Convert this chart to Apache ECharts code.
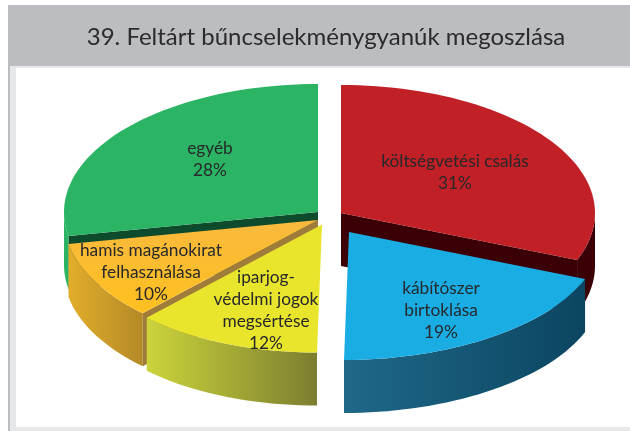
<!DOCTYPE html>
<html>
<head>
<meta charset="utf-8">
<style>
  html, body { margin: 0; padding: 0; background: #fff; }
  #chart { width: 630px; height: 431px; }
</style>
<script src="https://cdn.jsdelivr.net/npm/echarts@6/dist/echarts.min.js"></script>
</head>
<body>
<div id="chart"></div>
<script>
var titleText = "39. Feltárt bűncselekménygyanúk megoszlása";
var categories = [
  "költségvetési csalás",
  "kábítószer\nbirtoklása",
  "iparjog-\nvédelmi jogok\nmegsértése",
  "hamis magánokirat\nfelhasználása",
  "egyéb",
];
var values = [31, 19, 12, 10, 28];

// look of each slice, same order as categories
var topColors = [
  ["#c12026", "#c12026"],
  ["#19ade4", "#19ade4"],
  ["#e8e52c", "#e8e52c"],
  ["#f9b93e", "#fec01f"],
  ["#2bb463", "#2bb463"],
];
var sideColors = [
  ["#3a0006", "#3a0006"],
  ["#1f6888", "#0b4561"],
  ["#cbd43a", "#7c7e30"],
  ["#e2ad2a", "#b48a28"],
  ["#2bb463", "#2bb463"],
];
var wallColors = ["#3a0006", null, null, "#a07c3a", "#0e4a2c"];
var wallEdges = ["end", null, null, "start", "start"];
var apexes = [[341, 213], [349, 232], [322, 224.5], [318, 220], [318, 212]];
var labelPos = [[455, 172], [441, 310], [266, 310], [151, 272], [210, 159]];
var drawOrder = [1, 5, 4, 3, 2];

var RX = 254;
var RY = 128;
var DEPTH = 53;
var TILT = 5;

// the point on a slice's rim, deg clockwise from the top
function rim(apex, deg) {
  var a = (deg * Math.PI) / 180;
  var c = Math.cos(a);
  var lean = c < 0 ? TILT * c * c * c * c : 0;
  return [apex[0] + RX * Math.sin(a) - lean, apex[1] - RY * c];
}

function arc(apex, from, to) {
  var pts = [];
  var n = Math.max(2, Math.ceil(Math.abs(to - from) / 2));
  for (var i = 0; i <= n; i++) {
    pts.push(rim(apex, from + ((to - from) * i) / n));
  }
  return pts;
}

function down(p) {
  return [p[0], p[1] + DEPTH];
}

function gradient(colors, vertical) {
  return new echarts.graphic.LinearGradient(0, 0, vertical ? 0 : 1, vertical ? 1 : 0, [
    { offset: 0, color: colors[0] },
    { offset: 1, color: colors[1] },
  ]);
}

function renderSlice(params, api) {
  var i = params.dataIndex;
  var before = 0;
  for (var k = 0; k < i; k++) before += values[k];
  var total = values.reduce(function (s, v) { return s + v; }, 0);
  var start = (before / total) * 360;
  var end = ((before + api.value(0)) / total) * 360;
  var apex = apexes[i];
  var z = drawOrder[i] * 10;
  var children = [];

  // cut face, only the ones turned to the viewer
  if (wallEdges[i]) {
    var p = rim(apex, wallEdges[i] === "end" ? end : start);
    children.push({
      type: "polygon",
      z2: z,
      shape: { points: [apex, p, down(p), down(apex)] },
      style: { fill: wallColors[i] },
    });
  }

  // outer rim, front half only
  var from = Math.max(start, 90);
  var to = Math.min(end, 270);
  if (to > from) {
    var upper = arc(apex, from, to);
    var lower = upper.map(down).reverse();
    children.push({
      type: "polygon",
      z2: z + 1,
      shape: { points: upper.concat(lower) },
      style: { fill: gradient(sideColors[i], false) },
    });
  }

  children.push({
    type: "polygon",
    z2: z + 2,
    shape: { points: [apex].concat(arc(apex, start, end)) },
    style: { fill: gradient(topColors[i], true) },
  });

  children.push({
    type: "text",
    z2: 100,
    x: labelPos[i][0],
    y: labelPos[i][1],
    style: {
      text: categories[i] + "\n" + api.value(0) + "%",
      fill: "#26282b",
      font: '17.3px Lato, "Noto Sans", sans-serif',
      lineHeight: 22,
      align: "center",
      verticalAlign: "middle",
    },
  });

  return { type: "group", children: children };
}

var chart = echarts.init(document.getElementById("chart"), null, { renderer: "canvas" });
chart.setOption({
  animation: false,
  title: {
    text: titleText,
    left: 321,
    top: 20,
    textAlign: "center",
    textStyle: {
      color: "#2b2b2d",
      fontFamily: 'Lato, "Noto Sans", sans-serif',
      fontSize: 24,
      fontWeight: "normal",
    },
  },
  graphic: [
    { type: "rect", z: -1, shape: { x: 8, y: 5, width: 622, height: 61 }, style: { fill: "#bcbdc0" } },
    { type: "rect", z: -1, shape: { x: 8, y: 66, width: 622, height: 2 }, style: { fill: "#e6e7e8" } },
    { type: "rect", z: -1, shape: { x: 8, y: 66, width: 2, height: 365 }, style: { fill: "#bcbdc0" } },
    { type: "rect", z: -1, shape: { x: 10, y: 66, width: 6, height: 365 }, style: { fill: "#e6e7e8" } },
    { type: "rect", z: -1, shape: { x: 10, y: 427, width: 620, height: 4 }, style: { fill: "#e6e7e8" } },
  ],
  series: [
    {
      type: "custom",
      coordinateSystem: "none",
      silent: true,
      renderItem: renderSlice,
      data: values.map(function (v) { return [v]; }),
      encode: { value: 0 },
    },
  ],
});
</script>
</body>
</html>
